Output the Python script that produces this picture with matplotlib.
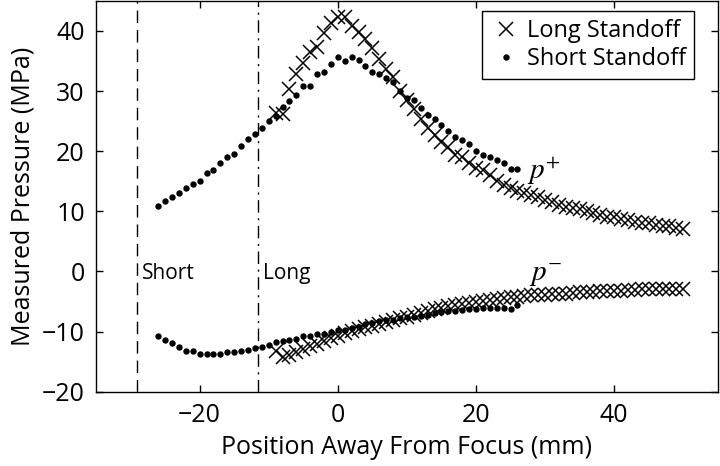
import matplotlib
matplotlib.use("Agg")
import matplotlib.pyplot as plt

plt.rcParams['font.family'] = ['Open Sans', 'DejaVu Sans']
plt.rcParams['mathtext.fontset'] = 'stix'

# Short standoff (dots)
short_x = list(range(-26, 27))
short_pplus = [10.9, 11.8, 12.4, 13.0, 13.9, 14.5, 15.1, 16.4, 16.9, 18.0,
               19.1, 19.6, 20.8, 22.0, 22.9, 23.9, 25.0, 25.9, 27.4, 28.3,
               29.3, 30.9, 30.9, 32.8, 33.2, 34.5, 35.6, 35.0, 35.6, 35.2,
               34.1, 33.1, 32.9, 32.1, 31.5, 30.1, 28.9, 28.6, 27.2, 26.1,
               25.4, 24.3, 23.3, 22.4, 21.8, 21.2, 20.1, 19.3, 19.0, 18.5,
               18.0, 17.0, 17.0]
short_pminus = [-10.8, -11.4, -11.9, -12.5, -13.2, -13.3, -13.7, -13.8, -13.8, -13.7,
                -13.4, -13.4, -13.2, -13.0, -12.7, -12.5, -12.3, -11.7, -11.5, -11.4,
                -11.3, -10.8, -10.7, -10.4, -10.4, -10.0, -9.8, -9.7, -9.4, -9.3,
                -8.8, -8.5, -8.2, -8.1, -8.1, -7.8, -7.6, -7.5, -7.4, -7.2,
                -6.9, -6.8, -6.6, -6.5, -6.4, -6.3, -6.2, -6.1, -6.1, -6.1,
                -6.0, -6.3, -5.6]

# Long standoff (crosses)
long_x = list(range(-9, 51))
long_pplus = [26.3, 26.2, 30.3, 32.9, 34.6, 36.5, 37.3, 39.6, 41.3, 42.4,
              42.3, 40.8, 39.8, 38.6, 37.1, 35.3, 33.7, 32.4, 30.1, 28.5,
              27.1, 25.4, 23.8, 22.7, 21.6, 20.7, 19.4, 19.0, 18.0, 17.2,
              16.8, 16.0, 15.0, 14.3, 13.9, 13.4, 13.1, 12.7, 12.4, 11.9,
              11.6, 11.0, 10.8, 10.6, 10.4, 10.1, 9.7, 9.4, 9.1, 9.0,
              8.7, 8.6, 8.3, 8.1, 8.0, 7.7, 7.5, 7.6, 7.3, 7.0]
long_pminus = [-13.3, -14.3, -13.9, -13.4, -12.9, -12.4, -12.0, -11.5, -11.1, -10.7,
               -10.3, -9.9, -9.6, -9.3, -9.0, -8.7, -8.4, -8.1, -7.8, -7.5,
               -7.2, -6.9, -6.6, -6.3, -6.0, -5.8, -5.6, -5.4, -5.2, -5.0,
               -4.9, -4.7, -4.6, -4.4, -4.3, -4.2, -4.1, -4.0, -3.9, -3.9,
               -3.8, -3.7, -3.7, -3.6, -3.5, -3.5, -3.4, -3.3, -3.3, -3.2,
               -3.2, -3.1, -3.1, -3.0, -3.0, -3.0, -2.9, -2.9, -2.9, -3.0]

short_line_x = -29
long_line_x = -11.5

xticks = [-20, 0, 20, 40]
yticks = [-20, -10, 0, 10, 20, 30, 40]

fig = plt.figure(figsize=(7.2, 4.66), dpi=100)
ax = fig.add_axes([0.1333, 0.1595, 0.8637, 0.8385])

ax.plot(long_x, long_pplus, 'x', color='black', markersize=9.5, mew=1.1,
        label='Long Standoff')
ax.plot(long_x, long_pminus, 'x', color='black', markersize=9.5, mew=1.1)
ax.plot(short_x, short_pplus, 'o', color='black', markersize=4.6, mew=0,
        label='Short Standoff')
ax.plot(short_x, short_pminus, 'o', color='black', markersize=4.6, mew=0)

ax.axvline(short_line_x, color='black', lw=1.0, ls=(0, (9, 5)))
ax.axvline(long_line_x, color='black', lw=1.0, ls=(0, (9, 4, 1.5, 4)))

ax.text(short_line_x + 0.7, -0.3, 'Short', fontsize=15, va='center', ha='left')
ax.text(long_line_x + 0.7, -0.3, 'Long', fontsize=15, va='center', ha='left')
ax.text(27.4, 16.5, r'$p^{+}$', fontsize=21, va='center', ha='left')
ax.text(27.6, -0.5, r'$p^{-}$', fontsize=21, va='center', ha='left')

ax.set_xlim(-35, 55)
ax.set_ylim(-20, 45)
ax.set_xticks(xticks)
ax.set_yticks(yticks)
ax.set_xticklabels(['\u221220', '0', '20', '40'])
ax.set_yticklabels(['\u221220', '\u221210', '0', '10', '20', '30', '40'])
ax.tick_params(direction='in', top=True, right=True, length=5, width=1,
               labelsize=18, pad=8)
for s in ax.spines.values():
    s.set_linewidth(1.0)

ax.set_xlabel('Position Away From Focus (mm)', fontsize=18, labelpad=5)
ax.set_ylabel('Measured Pressure (MPa)', fontsize=18, labelpad=5)

leg = ax.legend(loc='upper right', bbox_to_anchor=(0.962, 0.974),
                fontsize=17, frameon=True, fancybox=False,
                edgecolor='black', framealpha=1, handlelength=1.3,
                handletextpad=0.25, borderpad=0.35, labelspacing=0.15,
                borderaxespad=0.0, markerscale=1.0)
leg.get_frame().set_linewidth(1.0)

fig.savefig('out.png', dpi=100)
